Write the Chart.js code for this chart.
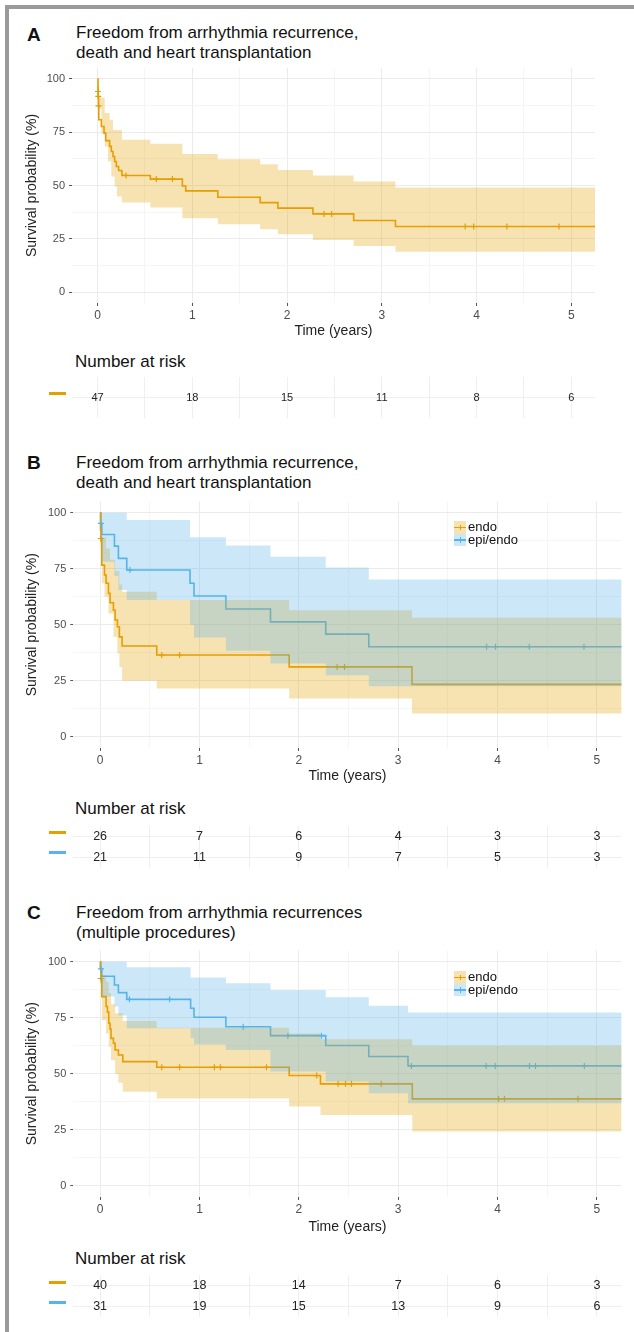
<!DOCTYPE html>
<html>
<head>
<meta charset="utf-8">
<script src="https://cdn.jsdelivr.net/npm/chart.js@4.4.1/dist/chart.umd.min.js"></script>
<style>
  html, body { margin: 0; padding: 0; background: #fff; }
  body { width: 634px; height: 1332px; position: relative; overflow: hidden;
         font-family: "Liberation Sans", Arial, sans-serif; color: #111; }
  canvas { position: absolute; left: 0; }
  .frame-top { position: absolute; left: 5px; top: 5px; width: 629px; height: 4px; background: #9a9a9a; }
  .frame-left { position: absolute; left: 5px; top: 5px; width: 4px; height: 1327px; background: #9a9a9a; }
  .tag { position: absolute; left: 27px; font-weight: bold; font-size: 19px; line-height: 20px; }
  .title { position: absolute; left: 76px; font-size: 17px; line-height: 19.5px; white-space: nowrap; }
  .risk-head { position: absolute; left: 75px; font-size: 17px; line-height: 20px; }
  .dash { position: absolute; left: 49px; width: 17px; height: 3px; }
  .legend { position: absolute; left: 454px; font-size: 13px; line-height: 12.5px; color: #111; }
  .key-row { height: 12.5px; display: flex; align-items: center; }
  .key { width: 12px; height: 12.5px; margin-right: 2px; position: relative; }
  .key::before { content: ""; position: absolute; left: 0; right: 0; top: 5.5px; height: 1.5px; background: var(--c); }
  .key::after { content: ""; position: absolute; left: 5.5px; top: 3.5px; width: 1px; height: 5.5px; background: var(--c); }
</style>
</head>
<body>

<div class="tag" style="top:25px">A</div>
<div class="title" style="top:23px">Freedom from arrhythmia recurrence,<br>death and heart transplantation</div>
<canvas id="km-a" width="634" height="286" style="top:56px"></canvas>
<div class="risk-head" style="top:352px">Number at risk</div>
<div class="dash" style="top:392px; background:#E69F00"></div>
<canvas id="risk-a" width="634" height="41" style="top:377px"></canvas>

<div class="tag" style="top:453px">B</div>
<div class="title" style="top:453px">Freedom from arrhythmia recurrence,<br>death and heart transplantation</div>
<canvas id="km-b" width="634" height="297" style="top:490px"></canvas>
<div class="legend" style="top:521px">
  <div class="key-row"><span class="key" style="--c:#E69F00; background:rgba(230,159,0,0.3)"></span>endo</div>
  <div class="key-row"><span class="key" style="--c:#56B4E9; background:rgba(86,180,233,0.3)"></span>epi/endo</div>
</div>
<div class="risk-head" style="top:799px">Number at risk</div>
<div class="dash" style="top:831px; background:#E69F00"></div>
<div class="dash" style="top:851px; background:#56B4E9"></div>
<canvas id="risk-b" width="634" height="42" style="top:826px"></canvas>

<div class="tag" style="top:903px">C</div>
<div class="title" style="top:903px">Freedom from arrhythmia recurrences<br>(multiple procedures)</div>
<canvas id="km-c" width="634" height="299" style="top:939px"></canvas>
<div class="legend" style="top:971px">
  <div class="key-row"><span class="key" style="--c:#E69F00; background:rgba(230,159,0,0.3)"></span>endo</div>
  <div class="key-row"><span class="key" style="--c:#56B4E9; background:rgba(86,180,233,0.3)"></span>epi/endo</div>
</div>
<div class="risk-head" style="top:1249px">Number at risk</div>
<div class="dash" style="top:1281px; background:#E69F00"></div>
<div class="dash" style="top:1301px; background:#56B4E9"></div>
<canvas id="risk-c" width="634" height="42" style="top:1275px"></canvas>

<div class="frame-top"></div>
<div class="frame-left"></div>

<script>
// ---- axes ----
const xGridTicks = [0, 0.5, 1, 1.5, 2, 2.5, 3, 3.5, 4, 4.5, 5];
const yGridTicks = [0, 12.5, 25, 37.5, 50, 62.5, 75, 87.5, 100];
const riskTimes = [0, 1, 2, 3, 4, 5];
const strata = ['endo', 'epi/endo'];

// ---- panel A: all patients ----
const kmA_t = [0, 0.004, 0.007, 0.01, 0.013, 0.04, 0.068, 0.086, 0.127, 0.145, 0.163, 0.18, 0.198, 0.222, 0.257, 0.557, 0.895, 0.93, 1.269, 1.716, 1.903, 2.273, 2.703, 3.144, 5.25];
const kmA_s = [100, 95.7, 91.5, 87.2, 80.8, 77.6, 74.5, 71.0, 68.3, 65.9, 63.6, 61.2, 58.9, 57.0, 54.7, 53.0, 49.8, 47.5, 44.5, 42.0, 39.4, 36.7, 33.6, 30.8, 30.8];
const upA_t = [0, 0.013, 0.075, 0.127, 0.163, 0.257, 0.557, 0.895, 1.269, 1.716, 1.903, 2.273, 2.703, 3.144, 5.25];
const upA_s = [100, 91.2, 83.9, 80.8, 76.0, 71.4, 69.5, 64.7, 62.3, 60.0, 57.3, 54.7, 51.9, 49.1, 49.1];
const loA_t = [0, 0.004, 0.04, 0.075, 0.11, 0.145, 0.18, 0.205, 0.257, 0.557, 0.895, 1.269, 1.716, 1.903, 2.273, 2.703, 3.144, 5.25];
const loA_s = [100, 86.0, 74.5, 68.3, 61.2, 54.2, 49.5, 44.8, 42.0, 39.7, 34.7, 31.9, 29.5, 27.2, 24.5, 21.7, 19.0, 19.0];
const censA_t = [0.004, 0.007, 0.01, 0.30, 0.62, 0.79, 2.39, 2.47, 3.88, 3.97, 4.32, 4.87];
const censA_s = [94.0, 91.7, 87.3, 54.7, 53.0, 53.0, 36.7, 36.7, 30.8, 30.8, 30.8, 30.8];
const riskA = [47, 18, 15, 11, 8, 6];

// ---- panel B: endo vs epi/endo ----
const kmBo_t = [0, 0.004, 0.009, 0.017, 0.044, 0.06, 0.084, 0.10, 0.134, 0.151, 0.174, 0.194, 0.221, 0.57, 1.903, 3.139, 5.25];
const kmBo_s = [100, 92.3, 88.5, 76.6, 72.2, 68.5, 64.0, 59.8, 56.5, 52.1, 49.1, 44.6, 40.5, 36.5, 31.2, 23.4, 23.4];
const upBo_t = [0, 0.017, 0.06, 0.10, 0.151, 0.194, 0.221, 0.57, 1.903, 3.139, 5.25];
const upBo_s = [100, 89.0, 84.0, 79.0, 74.0, 68.0, 64.7, 61.0, 56.5, 53.1, 53.1];
const loBo_t = [0, 0.004, 0.017, 0.044, 0.084, 0.134, 0.174, 0.194, 0.221, 0.57, 1.903, 3.139, 5.25];
const loBo_s = [100, 85.0, 68.5, 62.5, 55.0, 44.6, 37.2, 31.2, 25.0, 21.6, 17.1, 10.4, 10.4];
const censBo_t = [0.006, 0.62, 0.80, 2.385, 2.46];
const censBo_s = [88.5, 36.5, 36.5, 31.2, 31.2];

const kmBe_t = [0, 0.006, 0.017, 0.144, 0.184, 0.268, 0.905, 0.945, 1.266, 1.715, 2.271, 2.704, 5.25];
const kmBe_s = [100, 95.2, 90.3, 85.1, 79.6, 74.4, 68.5, 62.8, 57.0, 51.3, 45.8, 40.2, 40.2];
const upBe_t = [0, 0.268, 0.905, 1.266, 1.715, 2.271, 2.704, 5.25];
const upBe_s = [100, 96.7, 89.0, 85.4, 80.4, 75.6, 70.2, 70.2];
const loBe_t = [0, 0.006, 0.017, 0.144, 0.184, 0.268, 0.905, 0.945, 1.266, 1.715, 2.271, 2.704, 5.25];
const loBe_s = [100, 88.0, 78.1, 71.7, 65.5, 61.0, 50.0, 44.3, 38.4, 32.7, 27.5, 22.6, 22.6];
const censBe_t = [0.008, 0.30, 3.89, 3.98, 4.32, 4.87];
const censBe_s = [95.2, 74.4, 40.2, 40.2, 40.2, 40.2];

const riskBo = [26, 7, 6, 4, 3, 3];
const riskBe = [21, 11, 9, 7, 5, 3];

// ---- panel C: multiple procedures ----
const kmCo_t = [0, 0.004, 0.008, 0.017, 0.06, 0.074, 0.087, 0.10, 0.11, 0.134, 0.151, 0.184, 0.228, 0.57, 1.903, 2.218, 3.142, 5.25];
const kmCo_s = [100, 97.5, 92.5, 84.4, 80.0, 77.5, 72.5, 70.0, 65.8, 63.6, 60.6, 58.4, 55.4, 52.9, 49.2, 45.5, 38.8, 38.8];
const upCo_t = [0, 0.017, 0.06, 0.087, 0.11, 0.151, 0.228, 0.57, 1.903, 2.218, 3.142, 5.25];
const upCo_s = [100, 94.0, 91.0, 86.0, 81.0, 77.0, 73.5, 70.5, 68.0, 65.4, 62.6, 62.6];
const loCo_t = [0, 0.004, 0.017, 0.06, 0.087, 0.11, 0.151, 0.184, 0.228, 0.57, 1.903, 2.218, 3.142, 5.25];
const loCo_s = [100, 90.0, 74.0, 68.0, 62.0, 56.0, 50.0, 46.0, 42.0, 39.0, 35.4, 31.6, 24.2, 24.2];
const censCo_t = [0.006, 0.62, 0.80, 1.15, 1.21, 1.675, 2.18, 2.395, 2.47, 2.53, 2.83, 4.01, 4.07, 4.81];
const censCo_s = [92.5, 52.9, 52.9, 52.9, 52.9, 52.9, 49.2, 45.5, 45.5, 45.5, 45.5, 38.8, 38.8, 38.8];

const kmCe_t = [0, 0.004, 0.017, 0.144, 0.184, 0.268, 0.911, 0.945, 1.266, 1.715, 2.271, 2.704, 3.099, 5.25];
const kmCe_s = [100, 96.8, 93.5, 89.6, 86.2, 83.2, 79.2, 75.2, 71.0, 67.0, 62.6, 57.7, 53.5, 53.5];
const upCe_t = [0, 0.268, 0.911, 1.266, 1.715, 2.271, 2.704, 3.099, 5.25];
const upCe_s = [100, 97.5, 92.9, 90.4, 87.4, 84.1, 80.4, 77.3, 77.3];
const loCe_t = [0, 0.004, 0.017, 0.144, 0.184, 0.268, 0.911, 0.945, 1.266, 1.715, 2.271, 2.704, 3.099, 5.25];
const loCe_s = [100, 90.5, 84.5, 80.0, 76.0, 70.3, 66.0, 63.0, 60.6, 51.0, 46.5, 41.3, 36.8, 36.8];
const censCe_t = [0.008, 0.295, 0.70, 1.44, 1.89, 2.228, 3.133, 3.886, 3.977, 4.322, 4.382, 4.874];
const censCe_s = [96.8, 83.2, 83.2, 71.0, 67.0, 67.0, 53.5, 53.5, 53.5, 53.5, 53.5, 53.5];

const riskCo = [40, 18, 14, 7, 6, 3];
const riskCe = [31, 19, 15, 13, 9, 6];

// ---- styling ----
const ORANGE = '#E69F00';
const BLUE = '#56B4E9';
const ORANGE_BAND = 'rgba(230, 159, 0, 0.3)';
const BLUE_BAND = 'rgba(86, 180, 233, 0.3)';
const X_MIN = -0.27;
const X_MAX = 5.25;

Chart.defaults.font.family = '"Liberation Sans", Arial, sans-serif';

function pts(ts, vs) {
  return ts.map((t, i) => ({ x: t, y: vs[i] }));
}

function curve(ts, vs, color, order) {
  return { data: pts(ts, vs), stepped: true, borderColor: color, borderWidth: 1.6,
    pointRadius: 0, fill: false, order };
}

function censor(ts, vs, color, order) {
  return { data: pts(ts, vs), showLine: false, pointStyle: 'cross', pointRadius: 3,
    pointBorderColor: color, pointBorderWidth: 1.2, borderColor: color, fill: false, order };
}

// upper + lower bound, the upper one fills down to the next dataset
function band(upT, upS, loT, loS, color, order) {
  const edge = { stepped: true, borderWidth: 0, borderColor: 'rgba(0,0,0,0)', pointRadius: 0, order };
  return [
    { ...edge, data: pts(upT, upS), fill: '+1', backgroundColor: color },
    { ...edge, data: pts(loT, loS), fill: false },
  ];
}

const isMajorX = (v) => Number.isInteger(v);
const isMajorY = (v) => v % 25 === 0;

function kmScales(yWidth, xHeight) {
  return {
    x: {
      type: 'linear', min: X_MIN, max: X_MAX,
      afterBuildTicks: (s) => { s.ticks = xGridTicks.map((v) => ({ value: v })); },
      afterFit: (s) => { s.height = xHeight; },
      ticks: { callback: (v) => (isMajorX(v) ? String(v) : ''), color: '#4d4d4d',
        font: { size: 12 }, padding: 2, autoSkip: false, maxRotation: 0 },
      grid: {
        color: (c) => (isMajorX(c.tick.value) ? '#ebebeb' : '#f5f5f5'),
        tickColor: (c) => (isMajorX(c.tick.value) ? '#555' : 'rgba(0,0,0,0)'),
        tickLength: 3,
      },
      border: { display: false },
      title: { display: true, text: 'Time (years)', color: '#222', font: { size: 14 },
        padding: { top: 0, bottom: 2 } },
    },
    y: {
      min: -5, max: 105,
      afterBuildTicks: (s) => { s.ticks = yGridTicks.map((v) => ({ value: v })); },
      afterFit: (s) => { s.width = yWidth; },
      ticks: { callback: (v) => (isMajorY(v) ? String(v) : ''), color: '#4d4d4d',
        font: { size: 11 }, padding: 4, autoSkip: false },
      grid: {
        color: (c) => (isMajorY(c.tick.value) ? '#ebebeb' : '#f5f5f5'),
        tickColor: (c) => (isMajorY(c.tick.value) ? '#555' : 'rgba(0,0,0,0)'),
        tickLength: 3,
      },
      border: { display: false },
      title: { display: true, text: 'Survival probability (%)', color: '#222',
        font: { size: 14 }, padding: 0 },
    },
  };
}

function kmChart(id, datasets, padding, yWidth, xHeight) {
  return new Chart(document.getElementById(id), {
    type: 'line',
    data: { datasets },
    options: {
      responsive: false,
      animation: false,
      events: [],
      layout: { padding },
      plugins: { legend: { display: false }, tooltip: { enabled: false } },
      scales: kmScales(yWidth, xHeight),
    },
  });
}

// numbers of the risk table, placed on each data point
const riskLabels = {
  id: 'riskLabels',
  afterDatasetsDraw(chart, args, opts) {
    const { ctx } = chart;
    ctx.save();
    ctx.font = `${opts.size}px "Liberation Sans", Arial, sans-serif`;
    ctx.fillStyle = '#222';
    ctx.textAlign = 'center';
    ctx.textBaseline = 'middle';
    chart.data.datasets.forEach((ds, i) => {
      chart.getDatasetMeta(i).data.forEach((pt, j) => {
        ctx.fillText(String(ds.counts[j]), pt.x, pt.y + 0.5);
      });
    });
    ctx.restore();
  },
};

function riskChart(id, rows, counts, left, right, fontSize) {
  return new Chart(document.getElementById(id), {
    type: 'scatter',
    data: {
      datasets: counts.map((arr, i) => ({
        data: riskTimes.map((t) => ({ x: t, y: rows[i] })),
        counts: arr,
        pointRadius: 0,
      })),
    },
    plugins: [riskLabels],
    options: {
      responsive: false,
      animation: false,
      events: [],
      layout: { padding: { left: 0, right, top: 0, bottom: 0 } },
      plugins: { legend: { display: false }, tooltip: { enabled: false }, riskLabels: { size: fontSize } },
      scales: {
        x: {
          type: 'linear', min: X_MIN, max: X_MAX,
          afterBuildTicks: (s) => { s.ticks = xGridTicks.map((v) => ({ value: v })); },
          afterFit: (s) => { s.height = 0; },
          ticks: { display: false },
          grid: { color: '#efefef', drawTicks: false },
          border: { display: false },
        },
        y: {
          type: 'category', labels: rows, offset: true,
          afterFit: (s) => { s.width = left; },
          ticks: { display: false },
          grid: { color: '#efefef', drawTicks: false },
          border: { display: false },
        },
      },
    },
  });
}

// panel A
kmChart('km-a', [
  curve(kmA_t, kmA_s, ORANGE, 10),
  censor(censA_t, censA_s, ORANGE, 9),
  ...band(upA_t, upA_s, loA_t, loA_s, ORANGE_BAND, 5),
], { top: 12, left: 24, right: 39, bottom: 0 }, 48, 39);
riskChart('risk-a', ['all'], [riskA], 72, 39, 11);

// panel B
kmChart('km-b', [
  curve(kmBo_t, kmBo_s, ORANGE, 10),
  curve(kmBe_t, kmBe_s, BLUE, 10),
  censor(censBo_t, censBo_s, ORANGE, 9),
  censor(censBe_t, censBe_s, BLUE, 9),
  ...band(upBo_t, upBo_s, loBo_t, loBo_s, ORANGE_BAND, 5),
  ...band(upBe_t, upBe_s, loBe_t, loBe_s, BLUE_BAND, 1),
], { top: 11.5, left: 24, right: 12.3, bottom: 0 }, 49.3, 39);
riskChart('risk-b', strata, [riskBo, riskBe], 73.3, 12.3, 12.5);

// panel C
kmChart('km-c', [
  curve(kmCo_t, kmCo_s, ORANGE, 10),
  curve(kmCe_t, kmCe_s, BLUE, 10),
  censor(censCo_t, censCo_s, ORANGE, 9),
  censor(censCe_t, censCe_s, BLUE, 9),
  ...band(upCo_t, upCo_s, loCo_t, loCo_s, ORANGE_BAND, 5),
  ...band(upCe_t, upCe_s, loCe_t, loCe_s, BLUE_BAND, 1),
], { top: 11.5, left: 24, right: 12.3, bottom: 0 }, 49.3, 41);
riskChart('risk-c', strata, [riskCo, riskCe], 73.3, 12.3, 12.5);
</script>
</body>
</html>
